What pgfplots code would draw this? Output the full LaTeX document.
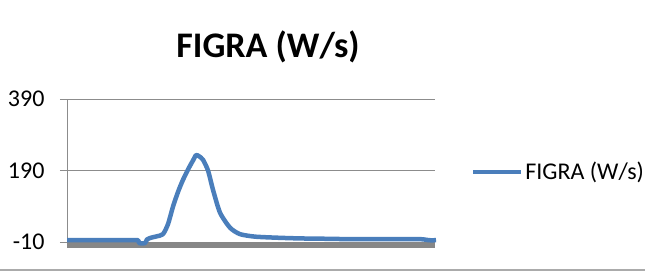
\documentclass[border=0pt]{standalone}
\usepackage{pgfplots}
\pgfplotsset{compat=1.18}
\usepackage{fontspec}
\setmainfont{Carlito}
\definecolor{lineblue}{HTML}{4A7EBB}
\definecolor{gridgray}{HTML}{8C8C8C}
\definecolor{floorgray}{HTML}{878787}
\newcommand{\tickfont}{\fontsize{24bp}{28bp}\selectfont}
\begin{document}
\begin{tikzpicture}[x=1bp,y=1bp]
\useasboundingbox (0,0) rectangle (645,271);
\draw[color=black!33, line width=1.5bp] (0,1) -- (645,1);
\node[font=\fontsize{36bp}{42bp}\selectfont\bfseries, anchor=base] at (268,214) {FIGRA (W/s)};
\begin{axis}[
  at={(67bp,29bp)}, anchor=south west,
  scale only axis, width=368bp, height=143bp,
  xmin=0, xmax=368, ymin=-10, ymax=390,
  ytick={-10,190,390},
  yticklabels={{\tickfont -10},{\tickfont 190},{\tickfont 390}},
  xtick=\empty,
  axis x line=none,
  axis y line*=left,
  y axis line style={gridgray, line width=1bp, -},
  ymajorgrids, grid style={gridgray, line width=1bp},
  major tick length=7bp,
  ytick style={gridgray, line width=1bp},
  tick align=outside,
  yticklabel style={xshift=-12bp, anchor=east},
  clip=false,
  legend style={at={(1.09,0.49)}, anchor=west, draw=none, fill=none,
    font=\fontsize{24bp}{28bp}\selectfont, legend cell align=left,
    /tikz/every even column/.style={column sep=0bp}},
  legend image code/.code={\draw[#1, line width=4bp] (0bp,0bp) -- (48bp,0bp);},
]
\fill[floorgray] (axis cs:0,-10) rectangle (axis cs:368,-26);
\addplot[lineblue, line width=4.5bp, line join=round, smooth, tension=0.4] coordinates {
(0,-5) (20,-5) (40,-5) (60,-5) (71,-5) (72,-13) (78,-13) (80,-3) (84,2) (90,6) (96,12)
(101,40) (106,89) (111,130) (116,164) (122,198) (126,218) (129,233) (132,230) (136,220)
(141,190) (146,136) (153,72) (163,30) (173,12) (188,5) (210,2) (233,0) (260,-1)
(283,-2) (320,-2) (353,-2) (362,-5) (369,-5)
};
\addlegendentry{FIGRA (W/s)}
\end{axis}
\end{tikzpicture}
\end{document}
